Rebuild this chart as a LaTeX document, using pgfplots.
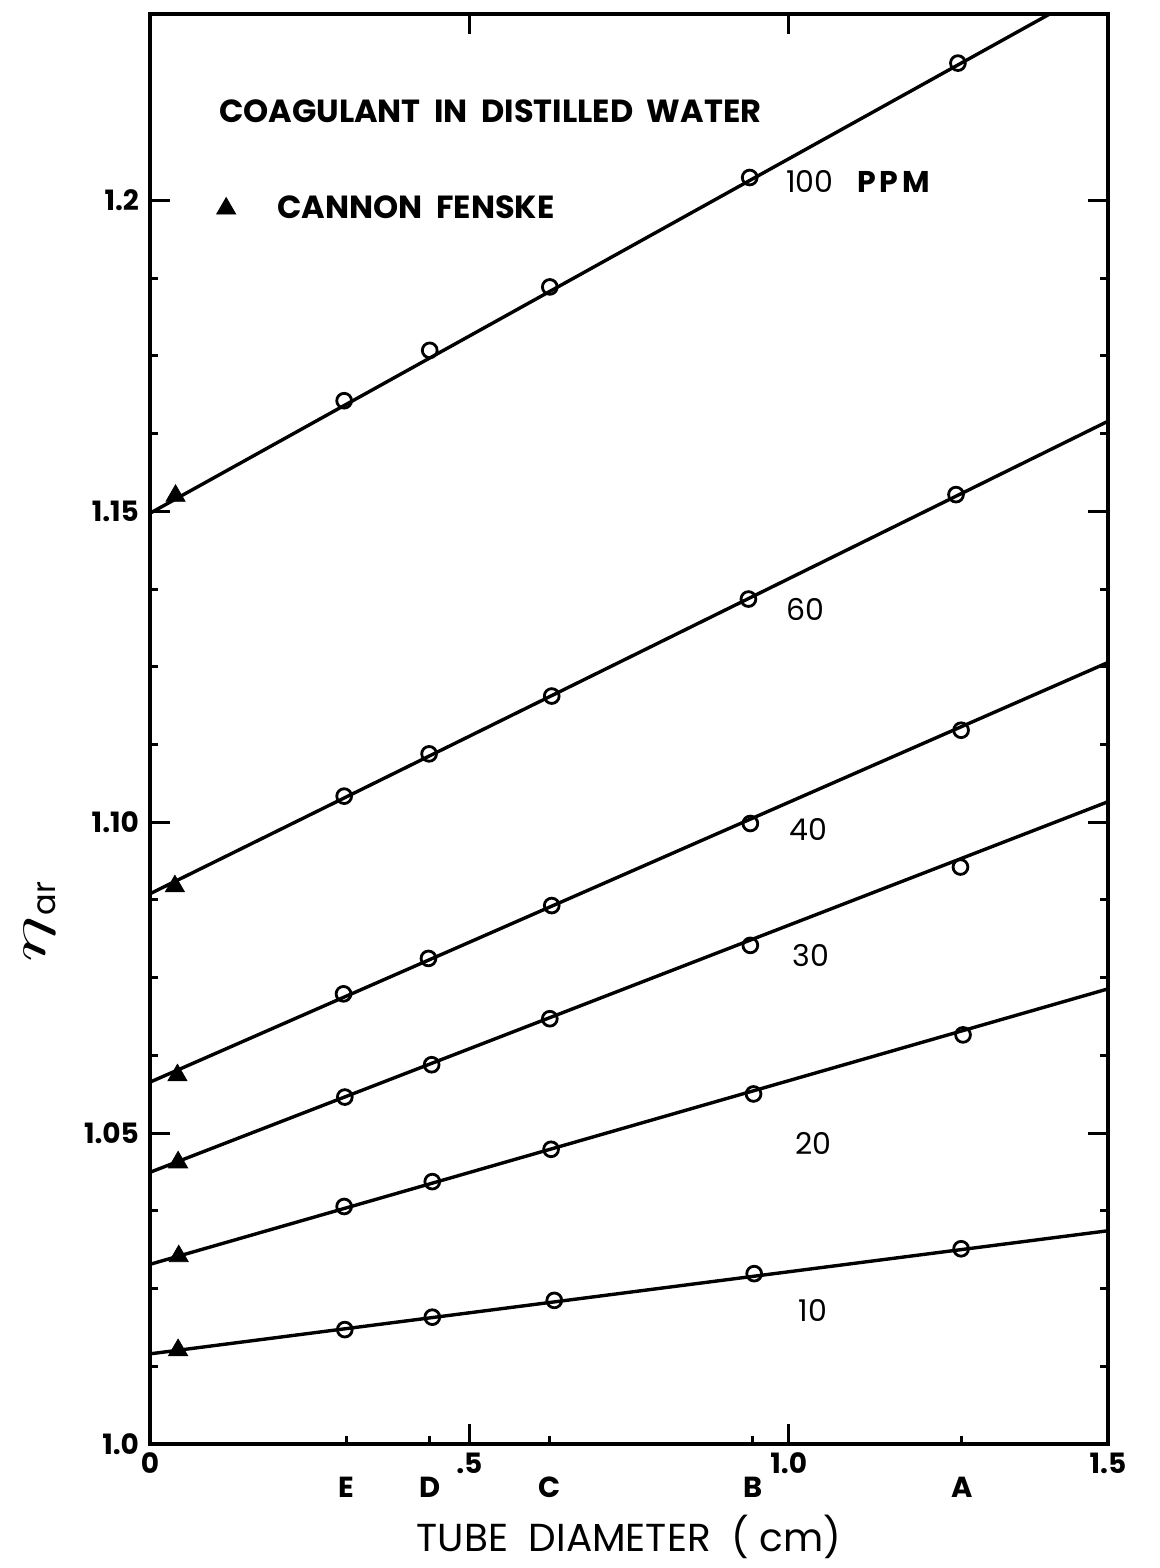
\documentclass[border=0pt]{standalone}
\usepackage{fontspec}
\setmainfont{Poppins}
\usepackage{pgfplots}
\pgfplotsset{compat=1.18}
\begin{document}
\begin{tikzpicture}
\begin{axis}[
  width=479pt, height=715pt, scale only axis,
  xmin=0, xmax=1.5, ymin=1.0, ymax=1.23,
  clip mode=individual,
  axis line style={line width=2.2pt},
  xtick={0,0.5,1.0,1.5}, xticklabels={0,.5,1.0,1.5},
  ytick={1.0,1.05,1.10,1.15,1.2}, yticklabels={1.0,1.05,1.10,1.15,1.2},
  minor y tick num=3,
  tick align=inside, tick pos=both,
  major tick length=10pt, minor tick length=4pt,
  every tick/.style={black, line width=1.5pt},
  ticklabel style={font=\fontsize{14}{16}\selectfont\bfseries},
  yticklabel style={xshift=-2pt},
  xticklabel style={yshift=-1pt},
  legend style={at={(axis cs:0.097,1.1987)}, anchor=west, draw=none, fill=none,
    inner sep=0pt, outer sep=0pt, nodes={inner sep=0pt},
    font=\fontsize{16}{18}\selectfont\bfseries},
  legend image code/.code={\path[draw=none] (0,0) (1.15cm,0); \draw[#1, only marks] plot coordinates {(0.25cm,0cm)};},
  circ/.style={only marks, mark=o, mark size=3.7pt, mark options={fill=white, line width=1.4pt}},
  tri/.style={only marks, mark=triangle*, mark size=5.5pt, black},
  fit/.style={no marks, black, line width=1.7pt},
]
% fitted lines
\addplot[fit, forget plot] coordinates {(0,1.1497) (1.5,1.2352)};
\addplot[fit, forget plot] coordinates {(0,1.0885) (1.5,1.1645)};
\addplot[fit, forget plot] coordinates {(0,1.0582) (1.5,1.1257)};
\addplot[fit, forget plot] coordinates {(0,1.0437) (1.5,1.1033)};
\addplot[fit, forget plot] coordinates {(0,1.0289) (1.5,1.0732)};
\addplot[fit, forget plot] coordinates {(0,1.0145) (1.5,1.0343)};
% tube data (open circles)
\addplot[circ, forget plot] coordinates {(0.304,1.1678) (0.438,1.1759) (0.626,1.1861) (0.939,1.2037) (1.265,1.2221)};
\addplot[circ, forget plot] coordinates {(0.304,1.1042) (0.437,1.1110) (0.629,1.1203) (0.937,1.1359) (1.262,1.1527)};
\addplot[circ, forget plot] coordinates {(0.303,1.0724) (0.436,1.0781) (0.629,1.0866) (0.940,1.0998) (1.270,1.1148)};
\addplot[circ, forget plot] coordinates {(0.305,1.0558) (0.441,1.0610) (0.626,1.0684) (0.940,1.0802) (1.269,1.0928)};
\addplot[circ, forget plot] coordinates {(0.304,1.0382) (0.442,1.0422) (0.628,1.0474) (0.945,1.0563) (1.273,1.0658)};
\addplot[circ, forget plot] coordinates {(0.305,1.0184) (0.442,1.0204) (0.633,1.0231) (0.946,1.0274) (1.270,1.0314)};
% Cannon Fenske (triangles)
\addplot[tri] coordinates {(0.040,1.1525)};
\addlegendentry{CANNON\ \ FENSKE}
\addplot[tri, forget plot] coordinates {(0.039,1.0897)};
\addplot[tri, forget plot] coordinates {(0.043,1.0593)};
\addplot[tri, forget plot] coordinates {(0.044,1.0453)};
\addplot[tri, forget plot] coordinates {(0.045,1.0302)};
\addplot[tri, forget plot] coordinates {(0.044,1.0151)};
% annotations
\node[anchor=west, font=\fontsize{16}{18}\selectfont\bfseries] at (axis cs:0.097,1.2143) {COAGULANT\ \ IN\ \ DISTILLED\ \ WATER};
\begin{scope}[every node/.style={anchor=west, font=\fontsize{15}{17}\selectfont}]
\node at (axis cs:0.985,1.2030) {100\ \ \ {\addfontfeatures{LetterSpace=12}\bfseries PPM}};
\node at (axis cs:0.985,1.1342) {60};
\node at (axis cs:0.990,1.0989) {40};
\node at (axis cs:0.995,1.0785) {30};
\node at (axis cs:1.000,1.0483) {20};
\node at (axis cs:1.005,1.0215) {10};
\end{scope}
% tube letters
\draw[line width=1.5pt] (axis cs:0.307,1.0) -- ([yshift=4pt]axis cs:0.307,1.0);
\draw[line width=1.5pt] (axis cs:0.438,1.0) -- ([yshift=4pt]axis cs:0.438,1.0);
\draw[line width=1.5pt] (axis cs:0.626,1.0) -- ([yshift=4pt]axis cs:0.626,1.0);
\draw[line width=1.5pt] (axis cs:0.944,1.0) -- ([yshift=4pt]axis cs:0.944,1.0);
\draw[line width=1.5pt] (axis cs:1.271,1.0) -- ([yshift=4pt]axis cs:1.271,1.0);
\begin{scope}[every node/.style={font=\fontsize{14.5}{16}\selectfont\bfseries}]
\node at ([yshift=-21.5pt]axis cs:0.307,1.0) {E};
\node at ([yshift=-21.5pt]axis cs:0.438,1.0) {D};
\node at ([yshift=-21.5pt]axis cs:0.626,1.0) {C};
\node at ([yshift=-21.5pt]axis cs:0.944,1.0) {B};
\node at ([yshift=-21.5pt]axis cs:1.271,1.0) {A};
\end{scope}
\node[font=\fontsize{19.5}{22}\selectfont, anchor=base] at ([yshift=-53.5pt]rel axis cs:0.5,0) {TUBE\ \ DIAMETER\ \ ( cm)};
\node[rotate=90] at ([xshift=-55pt]rel axis cs:0,0.365) {\fontsize{26}{26}\selectfont\scalebox{1.8}[1]{$\eta$}\raisebox{-5pt}{\fontsize{16}{16}\selectfont ar}};
\coordinate (SW) at (rel axis cs:0,0);
\coordinate (NE) at (rel axis cs:1,1);
\end{axis}
\pgfresetboundingbox
\path ([shift={(-75pt,-62pt)}]SW) rectangle ([shift={(26pt,7pt)}]NE);
\end{tikzpicture}
\end{document}
